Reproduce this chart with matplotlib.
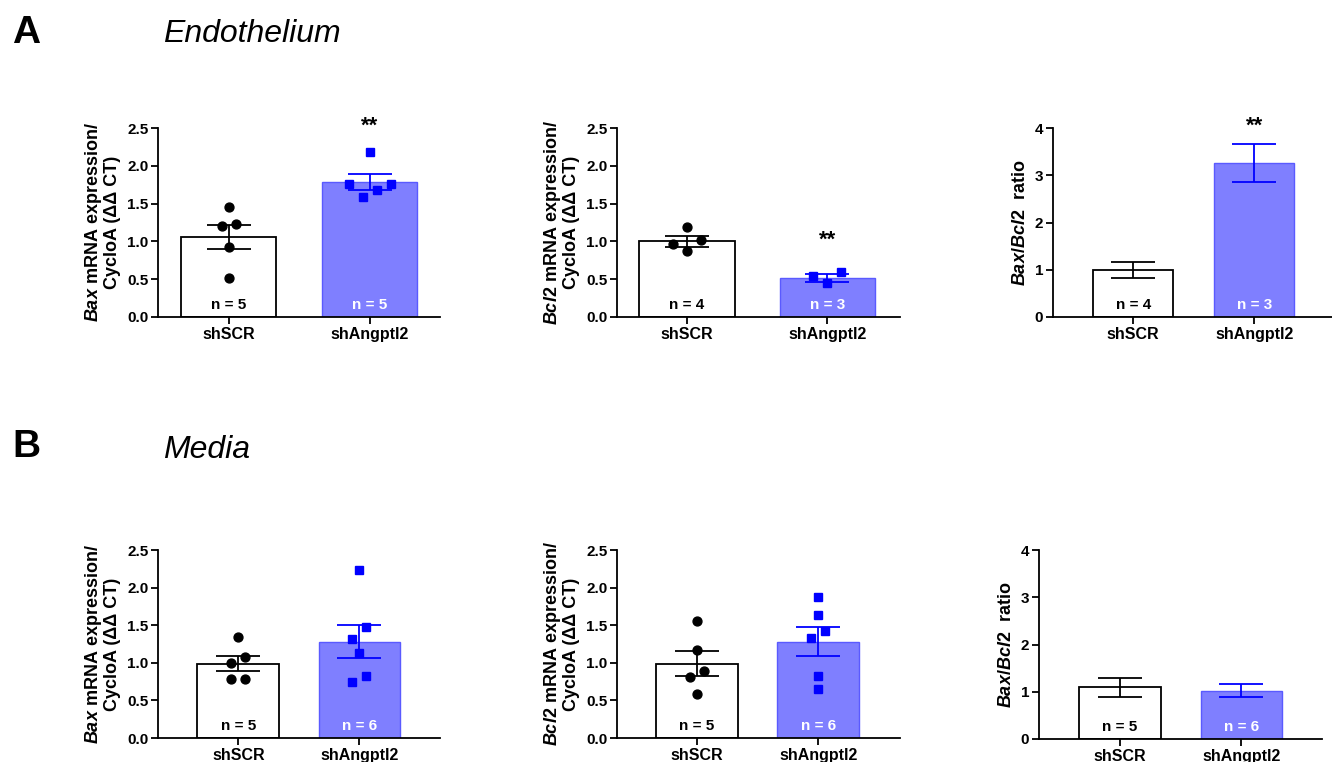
import matplotlib
matplotlib.use("Agg")
import matplotlib.pyplot as plt
import numpy as np

plt.rcParams['font.family'] = ['Liberation Sans', 'DejaVu Sans']
plt.rcParams['font.weight'] = 'bold'
plt.rcParams['mathtext.fontset'] = 'custom'
plt.rcParams['mathtext.it'] = 'Liberation Sans:italic:bold'
plt.rcParams['mathtext.rm'] = 'Liberation Sans:bold'
plt.rcParams['mathtext.bf'] = 'Liberation Sans:bold'

groups = ["shSCR", "shAngptl2"]

# --- A: endothelium ---
endo_bax_scr = [1.45, 1.20, 1.23, 0.93, 0.52]
endo_bax_sh = [2.18, 1.76, 1.76, 1.68, 1.59]
endo_bax_mean = [1.06, 1.79]
endo_bax_sem = [0.16, 0.105]

endo_bcl2_scr = [1.19, 1.02, 0.96, 0.87]
endo_bcl2_sh = [0.60, 0.54, 0.45]
endo_bcl2_mean = [1.00, 0.52]
endo_bcl2_sem = [0.07, 0.053]

endo_ratio_mean = [0.99, 3.26]
endo_ratio_sem = [0.165, 0.395]

# --- B: media ---
media_bax_scr = [1.34, 1.08, 1.00, 0.78, 0.78]
media_bax_sh = [2.24, 1.47, 1.32, 1.13, 0.83, 0.75]
media_bax_mean = [0.99, 1.28]
media_bax_sem = [0.105, 0.22]

media_bcl2_scr = [1.55, 1.17, 0.89, 0.81, 0.58]
media_bcl2_sh = [1.88, 1.63, 1.42, 1.33, 0.82, 0.65]
media_bcl2_mean = [0.99, 1.28]
media_bcl2_sem = [0.166, 0.19]

media_ratio_mean = [1.09, 1.02]
media_ratio_sem = [0.21, 0.14]

n_endo = [[5, 5], [4, 3], [4, 3]]
n_media = [[5, 6], [5, 6], [5, 6]]

W, H = 1332, 762
fig = plt.figure(figsize=(W / 100, H / 100), dpi=100)

WHITE_EDGE = 'black'
BLUE_FILL = '#7f7fff'
BLUE_EDGE = '#5a5aff'
BLUE_MARK = '#0000ff'

lab_bax = "$\\mathit{Bax}$ mRNA expression/\nCycloA (ΔΔ CT)"
lab_bcl2 = "$\\mathit{Bcl2}$ mRNA expression/\nCycloA (ΔΔ CT)"
lab_ratio = "$\\mathit{Bax/Bcl2}$  ratio"


def px_axes(left, top, right, bottom):
    return fig.add_axes([left / W, 1 - bottom / H, (right - left) / W, (bottom - top) / H])


def swarm_offsets(ax, vals, step_px=14, gap_px=12):
    vals = np.asarray(vals, float)
    ypx = ax.transData.transform(np.column_stack([np.zeros_like(vals), vals]))[:, 1]
    ppu = ax.transData.transform([[1, 0]])[0, 0] - ax.transData.transform([[0, 0]])[0, 0]
    order = np.argsort(ypx)
    clusters = [[order[0]]]
    for a, b in zip(order[:-1], order[1:]):
        if ypx[b] - ypx[a] < gap_px:
            clusters[-1].append(b)
        else:
            clusters.append([b])
    offs = np.zeros(len(vals))
    for cl in clusters:
        n = len(cl)
        slots = sorted((np.arange(n) - (n - 1) / 2) * step_px, key=lambda s: (abs(s), s))
        for idx, s in zip(cl, slots):
            offs[idx] = s / ppu
    return offs


def panel(rect, xlim, bw, ymax, yticks, yfmt, ylabel, mean, sem, n, pts=None, star=None,
          lab_size=13):
    ax = px_axes(*rect)
    ax.set_xlim(*xlim)
    ax.set_ylim(0, ymax)
    ax.bar(0, mean[0], width=bw, color='white', edgecolor=WHITE_EDGE, lw=1.3, zorder=1)
    ax.bar(1, mean[1], width=bw, color=BLUE_FILL, edgecolor=BLUE_EDGE, lw=1.0, zorder=1)
    ax.errorbar(0, mean[0], yerr=sem[0], color='black', capsize=16, elinewidth=1.3,
                capthick=1.3, zorder=3)
    ax.errorbar(1, mean[1], yerr=sem[1], color=BLUE_MARK, capsize=16, elinewidth=1.3,
                capthick=1.3, zorder=3)
    if pts is not None:
        off0 = swarm_offsets(ax, pts[0])
        off1 = swarm_offsets(ax, pts[1])
        ax.plot(0 + off0, pts[0], 'o', color='black', ms=6.4, zorder=4, clip_on=False)
        ax.plot(1 + off1, pts[1], 's', color=BLUE_MARK, ms=6.2, zorder=4, clip_on=False)
    ax.text(0, 0.065 * ymax, f"n = {n[0]}", ha='center', va='center', fontsize=11,
            fontweight='bold', color='black')
    ax.text(1, 0.065 * ymax, f"n = {n[1]}", ha='center', va='center', fontsize=11,
            fontweight='bold', color='white')
    if star is not None:
        ax.text(1, star, "**", ha='center', va='center', fontsize=16, fontweight='bold',
                transform=ax.get_xaxis_transform())
    for s in ['top', 'right']:
        ax.spines[s].set_visible(False)
    for s in ['left', 'bottom']:
        ax.spines[s].set_linewidth(1.3)
    ax.set_xticks([0, 1])
    ax.set_xticklabels(groups, fontsize=11.5, fontweight='bold')
    ax.set_yticks(yticks)
    ax.set_yticklabels([yfmt.format(t) for t in yticks], fontsize=11, fontweight='bold')
    ax.tick_params(length=5, width=1.3, pad=2)
    ax.set_ylabel(ylabel, fontsize=lab_size, fontweight='bold', labelpad=4, linespacing=1.0)
    return ax


yt_expr = [0, 0.5, 1.0, 1.5, 2.0, 2.5]
yt_ratio = [0, 1, 2, 3, 4]

# row A
panel((158, 128, 440, 317), (-0.5, 1.5), 0.675, 2.5, yt_expr, "{:.1f}", lab_bax,
      endo_bax_mean, endo_bax_sem, n_endo[0], pts=(endo_bax_scr, endo_bax_sh), star=1.01)
panel((617, 128, 900, 317), (-0.5, 1.52), 0.68, 2.5, yt_expr, "{:.1f}", lab_bcl2,
      endo_bcl2_mean, endo_bcl2_sem, n_endo[1], pts=(endo_bcl2_scr, endo_bcl2_sh), star=0.405)
panel((1053, 128, 1334, 317), (-0.663, 1.66), 0.666, 4, yt_ratio, "{:d}", lab_ratio,
      endo_ratio_mean, endo_ratio_sem, n_endo[2], star=1.01)

# row B
panel((158, 550, 440, 738), (-0.663, 1.665), 0.675, 2.5, yt_expr, "{:.1f}", lab_bax,
      media_bax_mean, media_bax_sem, n_media[0], pts=(media_bax_scr, media_bax_sh))
panel((617, 550, 900, 738), (-0.66, 1.674), 0.673, 2.5, yt_expr, "{:.1f}", lab_bcl2,
      media_bcl2_mean, media_bcl2_sem, n_media[1], pts=(media_bcl2_scr, media_bcl2_sh))
panel((1039, 550, 1322, 739), (-0.665, 1.662), 0.67, 4, yt_ratio, "{:d}", lab_ratio,
      media_ratio_mean, media_ratio_sem, n_media[2])

fig.text(12 / W, 1 - 43 / H, "A", fontsize=28, fontweight='bold', va='baseline')
fig.text(163 / W, 1 - 42 / H, "Endothelium", fontsize=23, fontweight='normal',
         style='italic', va='baseline')
fig.text(12 / W, 1 - 457 / H, "B", fontsize=28, fontweight='bold', va='baseline')
fig.text(163 / W, 1 - 458 / H, "Media", fontsize=23, fontweight='normal',
         style='italic', va='baseline')

fig.savefig("out.png", dpi=100)
